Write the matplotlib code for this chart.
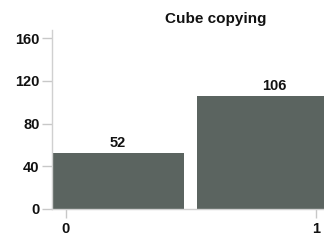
import matplotlib
matplotlib.use("Agg")
import matplotlib.pyplot as plt

categories = [0, 1]
counts = [52, 106]
bar_lefts = [-0.056, 0.524]
bar_rights = [0.472, 1.14]
yticks = [0, 40, 80, 120, 160]
title = "Cube copying"

plt.rcParams['font.family'] = ['Liberation Sans', 'DejaVu Sans']

W, H = 324, 241
fig = plt.figure(figsize=(W / 100, H / 100), dpi=100)
ax_left, ax_right, ax_bottom, ax_top = 52, 380, 209, 30
ax = fig.add_axes([ax_left / W, 1 - ax_bottom / H, (ax_right - ax_left) / W, (ax_bottom - ax_top) / H])

bar_color = '#5b6460'
for l, r, c in zip(bar_lefts, bar_rights, counts):
    ax.bar(l, c, width=r - l, align='edge', color=bar_color, edgecolor='none', zorder=2)
    ax.text((l + r) / 2, c + 3, str(c), ha='center', va='bottom',
            fontsize=10.5, fontweight='bold', color='#111111')

ax.set_xlim(-0.056, 1.256)
ax.set_ylim(0, 167.5)
ax.set_xticks(categories)
ax.set_xticklabels([str(c) for c in categories])
ax.set_yticks(yticks)
ax.set_yticklabels([str(t) for t in yticks])

for s in ['top', 'right']:
    ax.spines[s].set_visible(False)
for s in ['left', 'bottom']:
    ax.spines[s].set_color('#d0d0d0')
    ax.spines[s].set_linewidth(1.0)

ax.tick_params(axis='both', colors='#c8c8c8', labelcolor='#111111', labelsize=10.5, width=1.0)
ax.tick_params(axis='y', length=7, pad=2)
ax.tick_params(axis='x', length=6.5, pad=3)
for lab in ax.get_xticklabels() + ax.get_yticklabels():
    lab.set_fontweight('bold')

ax.set_title(title, fontsize=11, fontweight='bold', color='#111111', pad=5)

fig.savefig('out.png', dpi=100)
